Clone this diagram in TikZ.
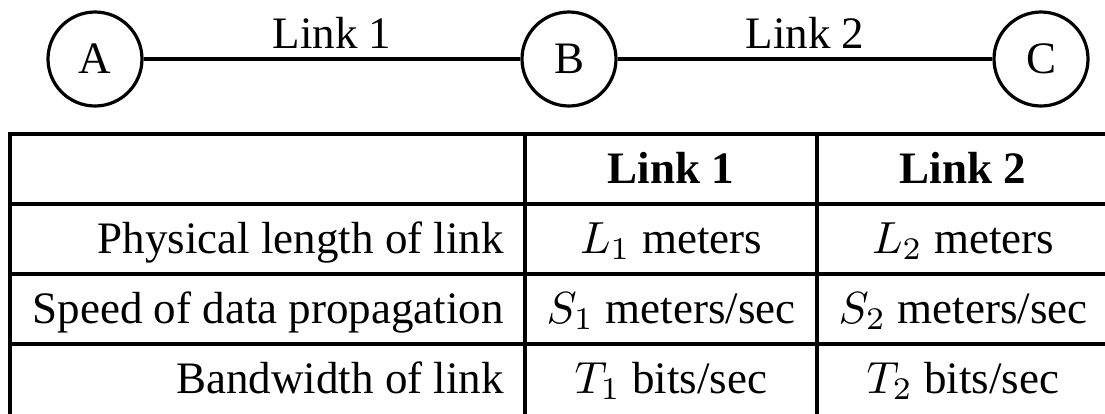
\documentclass[tikz,border=0pt]{standalone}
\usepackage{fontspec}
\setmainfont{Liberation Serif}
\begin{document}
\begin{tikzpicture}[x=1pt,y=-1pt,
  every node/.style={font=\fontsize{45}{54}\selectfont, inner sep=0pt},
  station/.style={circle, draw, line width=3.2pt, minimum size=94pt},
  linkline/.style={line width=3.2pt},
  gridline/.style={line width=3.5pt},
  linklabel/.style={midway, anchor=base, yshift=11pt},
  rowlabel/.style={anchor=base east},
  cell/.style={anchor=base, font=\fontsize{10}{12}\selectfont, scale=4.5},
  head/.style={anchor=base, font=\fontsize{45}{54}\selectfont\bfseries}]
\useasboundingbox (0,0) rectangle (1105,413);
\clip (0,0) rectangle (1105,413);
% network
\node[station] (A) at (95,59) {A};
\node[station] (B) at (569,59) {B};
\node[station] (C) at (1041,59) {C};
\draw[linkline] (A) -- node[linklabel] (l1) {Link 1} (B);
\draw[linkline] (B) -- node[linklabel] (l2) {Link 2} (C);
% table grid
\draw[gridline] (10,420) -- (10,134) -- (1120,134);
\draw[gridline] (10,204) -- (1120,204);
\draw[gridline] (10,274) -- (1120,274);
\draw[gridline] (10,344) -- (1120,344);
\draw[gridline] (10,416.5) -- (1120,416.5);
\draw[gridline] (525,134) -- (525,420);
\draw[gridline] (817,134) -- (817,420);
% header
\node[head] (h1) at (671,183) {Link 1};
\node[head] (h2) at (963,183) {Link 2};
% rows
\node[rowlabel] (r1) at (504,253) {Physical length of link};
\node[rowlabel] (r2) at (504,323) {Speed of data propagation};
\node[rowlabel] (r3) at (504,393) {Bandwidth of link};
\node[cell] (c11) at (671,253) {$L_1$ meters};
\node[cell] (c12) at (963,253) {$L_2$ meters};
\node[cell] (c21) at (671,323) {$S_1$ meters/sec};
\node[cell] (c22) at (963,323) {$S_2$ meters/sec};
\node[cell] (c31) at (671,393) {$T_1$ bits/sec};
\node[cell] (c32) at (963,393) {$T_2$ bits/sec};
\end{tikzpicture}
\end{document}
